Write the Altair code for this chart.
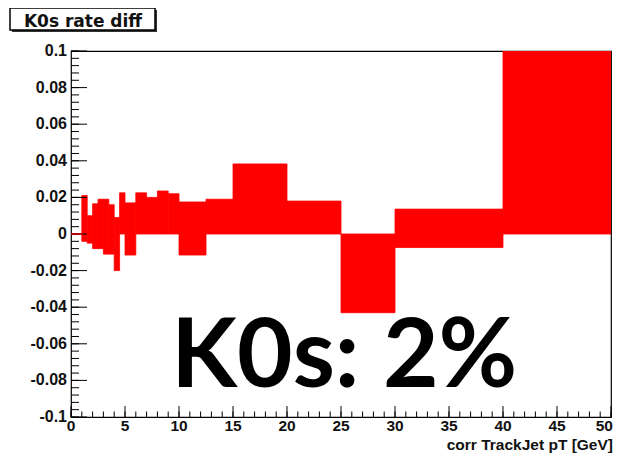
import altair as alt
import pandas as pd

# Bin edges (GeV) and the extent of each red error box
bin_lo = [0, 0.5, 1, 1.5, 2, 2.5, 3, 3.5, 4, 4.5, 5, 6, 7, 8, 9, 10, 12.5, 15, 20, 25, 30, 40]
bin_hi = [0.5, 1, 1.5, 2, 2.5, 3, 3.5, 4, 4.5, 5, 6, 7, 8, 9, 10, 12.5, 15, 20, 25, 30, 40, 50]
box_top = [0, 0, 0.021, 0.010, 0.0165, 0.019, 0.019, 0.016, 0.009, 0.0225, 0.017, 0.0225,
           0.020, 0.0235, 0.022, 0.0175, 0.019, 0.0383, 0.018, 0.0, 0.0136, 0.13]
box_bot = [0, 0, -0.004, -0.005, -0.008, -0.008, -0.011, -0.011, -0.020, 0.0, -0.0115, 0.0,
           0.0, 0.0, 0.0, -0.0115, 0.0, 0.0, 0.0, -0.043, -0.0074, 0.0]

x_major = [0, 5, 10, 15, 20, 25, 30, 35, 40, 45, 50]
x_labels = ["0", "5", "10", "15", "20", "25", "30", "35", "40", "45", "50"]
x_minor = [i for i in range(0, 51)]
y_major = [-0.1, -0.08, -0.06, -0.04, -0.02, 0, 0.02, 0.04, 0.06, 0.08, 0.1]
y_labels = ["-0.1", "-0.08", "-0.06", "-0.04", "-0.02", "0", "0.02", "0.04", "0.06", "0.08", "0.1"]
y_minor = [round(-0.1 + 0.004 * i, 3) for i in range(51)]

title_text = "K0s rate diff"
x_title = "corr TrackJet pT [GeV]"
big_text = "K0s: 2%"

W, H = 540, 366
FONT = "Liberation Sans"

df = pd.DataFrame({"lo": bin_lo, "hi": bin_hi, "top": box_top, "bot": box_bot})

xs = alt.Scale(domain=[0, 50], nice=False, zero=False)
ys = alt.Scale(domain=[-0.1, 0.1], nice=False, zero=False)

bars = alt.Chart(df).mark_rect(color="#ff0000", stroke="#ff0000", strokeWidth=0.8,
                               clip=True).encode(
    x=alt.X("lo:Q", scale=xs, axis=None),
    x2="hi:Q",
    y=alt.Y("bot:Q", scale=ys, axis=None),
    y2="top:Q",
)

flat = alt.Chart(df).transform_filter("datum.top == datum.bot").mark_rule(
    color="#dd0000", strokeWidth=1.5, clip=True).encode(
    x=alt.X("lo:Q", scale=xs, axis=None), x2="hi:Q",
    y=alt.Y("top:Q", scale=ys, axis=None))

xdf = pd.DataFrame({"v": x_major, "t": x_labels})
ydf = pd.DataFrame({"v": y_major, "t": y_labels})

xmaj = alt.Chart(xdf).mark_rule(color="black", strokeWidth=1).encode(
    x=alt.X("v:Q", scale=xs, axis=None), y=alt.value(H), y2=alt.value(H - 11))
xmin = alt.Chart(pd.DataFrame({"v": x_minor})).mark_rule(color="black", strokeWidth=1).encode(
    x=alt.X("v:Q", scale=xs, axis=None), y=alt.value(H), y2=alt.value(H - 5.5))
ymaj = alt.Chart(ydf).mark_rule(color="black", strokeWidth=1).encode(
    y=alt.Y("v:Q", scale=ys, axis=None), x=alt.value(0), x2=alt.value(16))
ymin = alt.Chart(pd.DataFrame({"v": y_minor})).mark_rule(color="black", strokeWidth=1).encode(
    y=alt.Y("v:Q", scale=ys, axis=None), x=alt.value(0), x2=alt.value(8))

xlab = alt.Chart(xdf).transform_filter("datum.v < 50").mark_text(
    font=FONT, fontWeight="bold", fontSize=15.5, color="#111",
    align="center", baseline="top").encode(
    x=alt.X("v:Q", scale=xs, axis=None), y=alt.value(H + 2), text="t:N")
xlab_last = alt.Chart(xdf).transform_filter("datum.v == 50").mark_text(
    font=FONT, fontWeight="bold", fontSize=15.5, color="#111",
    align="right", baseline="top", dx=2).encode(
    x=alt.X("v:Q", scale=xs, axis=None), y=alt.value(H + 2), text="t:N")
ylab = alt.Chart(ydf).mark_text(font=FONT, fontWeight="bold", fontSize=16, color="#111",
                                align="right", baseline="middle").encode(
    y=alt.Y("v:Q", scale=ys, axis=None), x=alt.value(-4), text="t:N")

one = pd.DataFrame({"a": [0]})
shadow = alt.Chart(one).mark_rect(color="#333").encode(
    x=alt.value(-59), x2=alt.value(86), y=alt.value(-41), y2=alt.value(-19))
box = alt.Chart(one).mark_rect(fill="white", stroke="black", strokeWidth=1.5).encode(
    x=alt.value(-61), x2=alt.value(84), y=alt.value(-43), y2=alt.value(-21))
ttl = alt.Chart(one).mark_text(font="DejaVu Sans", fontWeight="bold", fontSize=17,
                               align="center", baseline="alphabetic", color="#111").encode(
    x=alt.value(12), y=alt.value(-24.5), text=alt.value(title_text))

xt = alt.Chart(one).mark_text(font=FONT, fontWeight="bold", fontSize=15.5,
                              align="right", baseline="alphabetic", color="#111").encode(
    x=alt.value(W + 2), y=alt.value(H + 33), text=alt.value(x_title))

big = alt.Chart(one).mark_text(font="Lato", fontWeight="bold", fontSize=96,
                               align="center", baseline="alphabetic", color="black").encode(
    x=alt.datum(25.3, scale=xs), y=alt.datum(-0.0835, scale=ys), text=alt.value(big_text))

chart = alt.layer(bars, xmin, xmaj, ymin, ymaj, flat, xlab, xlab_last, ylab, big,
                  shadow, box, ttl, xt).properties(
    width=W, height=H,
    autosize=alt.AutoSizeParams(type="none"),
    padding={"left": 63, "top": 43, "right": 2, "bottom": 37},
    background="white",
).configure_view(stroke="black", strokeWidth=1.2)

chart.save("out.html", embed_options={"renderer": "svg", "actions": False})
